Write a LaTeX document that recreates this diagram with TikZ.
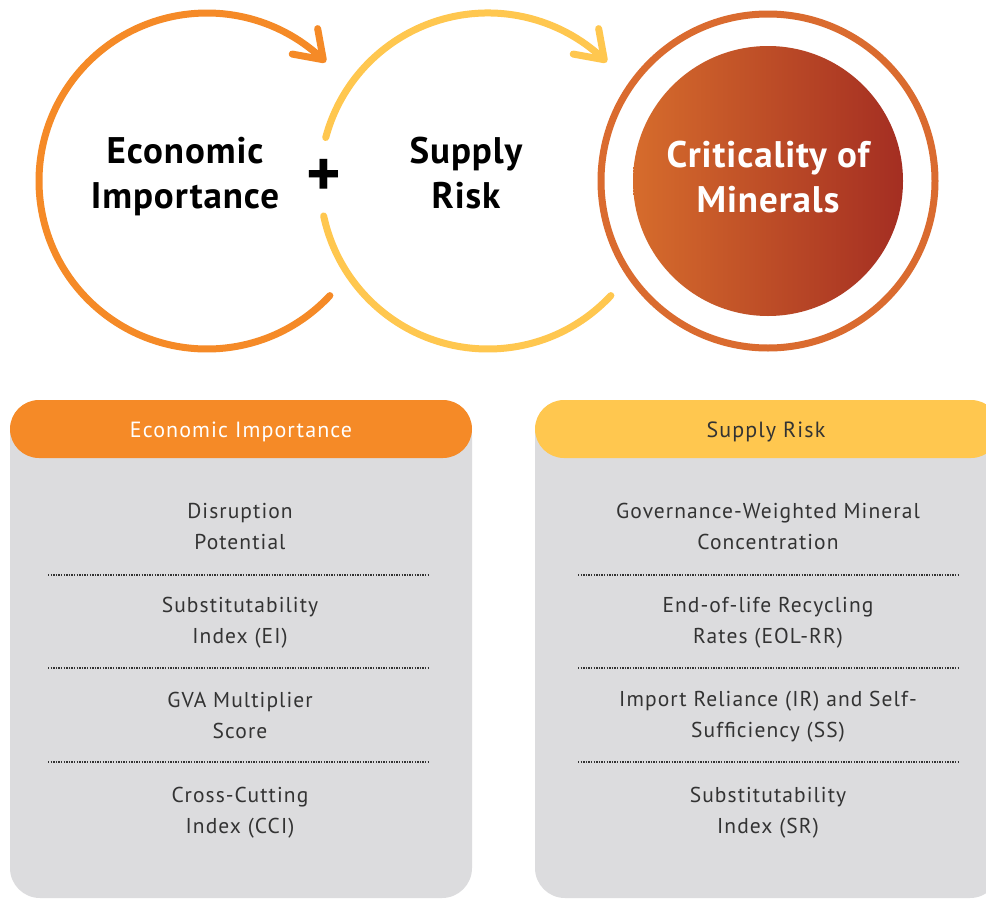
\documentclass[tikz,border=0pt]{standalone}
\usepackage{fontspec}
\setmainfont{PT Sans}
\usetikzlibrary{arrows.meta,bending}
\definecolor{eiorange}{HTML}{F58A27}
\definecolor{sryellow}{HTML}{FFC74F}
\definecolor{cmring}{HTML}{DA6B2F}
\definecolor{cmleft}{HTML}{D66C2C}
\definecolor{cmright}{HTML}{A42E22}
\definecolor{panelgray}{HTML}{DCDCDE}
\definecolor{inktext}{HTML}{333333}

\begin{document}
\begin{tikzpicture}[x=1pt,y=-1pt,
    ring/.style={line width=7pt,line cap=round},
    barb/.style={-{Straight Barb[length=26pt,width=36pt,round,flex]}},
    bigtext/.style={font=\fontsize{37}{45}\selectfont\bfseries\addfontfeatures{LetterSpace=2.5},align=center,anchor=north,inner sep=0pt},
    headtext/.style={font=\fontsize{22}{26}\selectfont\addfontfeatures{LetterSpace=5}},
    itemtext/.style={font=\fontsize{21.5}{31}\selectfont\addfontfeatures{LetterSpace=5},align=center,anchor=north,inner sep=0pt,text=inktext},
    dots/.style={inktext,line width=2pt,dash pattern=on 1.4pt off 1.2pt}]
      \useasboundingbox (0,0) rectangle (986,900);
      \clip (0,0) rectangle (986,900);
      \fill[white] (0,0) rectangle (986,900);
      \coordinate (E) at (207,181);
      \coordinate (S) at (488,181);
      \coordinate (M) at (768,181);
      \draw[ring,eiorange,barb] ([shift={(43:168)}]E) arc[start angle=43,end angle=315,radius=168];
      \draw[ring,sryellow] ([shift={(43:168)}]S) arc[start angle=43,end angle=168,radius=168];
      \draw[ring,sryellow,barb] ([shift={(195:168)}]S) arc[start angle=195,end angle=315,radius=168];
      \draw[ring,cmring] (M) circle[radius=167];
      \shade[left color=cmleft,right color=cmright] (M) circle[radius=135];
      \node[bigtext] (ei) at (185,137) {Economic\\Importance};
      \node[bigtext] (sr) at (466,137) {Supply\\Risk};
      \node[bigtext,text=white] (cm) at (768,141) {Criticality of\\Minerals};
      \node[font=\fontsize{66}{66}\selectfont\bfseries] (plus) at (324,178) {+};
      \fill[panelgray,rounded corners=30] (10,405) rectangle (472,898);
      \fill[panelgray,rounded corners=30] (535,405) rectangle (1000,898);
      \fill[eiorange,rounded corners=29] (10,400) rectangle (472,458);
      \fill[sryellow,rounded corners=29] (535,400) rectangle (1000,458);
      \node[headtext,text=white] (eihead) at (241,432) {Economic Importance};
      \node[headtext,text=inktext] (srhead) at (766,432) {Supply Risk};
      \node[itemtext] (ei1) at (240,503) {Disruption\\Potential};
      \node[itemtext] (ei2) at (240,597) {Substitutability\\Index (EI)};
      \node[itemtext] (ei3) at (240,692) {GVA Multiplier\\Score};
      \node[itemtext] (ei4) at (240,787) {Cross-Cutting\\Index (CCI)};
      \node[itemtext] (sr1) at (768,503) {Governance-Weighted Mineral\\Concentration};
      \node[itemtext] (sr2) at (768,597) {End-of-life Recycling\\Rates (EOL-RR)};
      \node[itemtext] (sr3) at (768,691) {Import Reliance (IR) and Self-\\Sufficiency (SS)};
      \node[itemtext] (sr4) at (768,787) {Substitutability\\Index (SR)};
      \foreach \y in {575,668,762} {
        \draw[dots] (48,\y) -- (430,\y);
        \draw[dots] (578,\y) -- (960,\y);
      }
    \end{tikzpicture}
\end{document}
